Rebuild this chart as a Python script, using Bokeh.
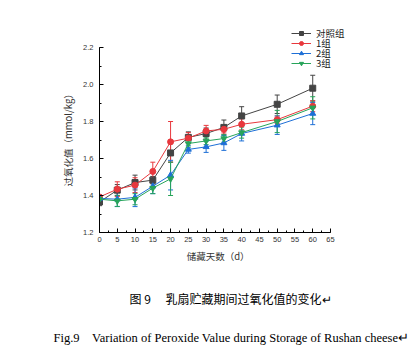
from bokeh.plotting import figure
from bokeh.models import (Range1d, ColumnDataSource, Whisker, TeeHead, Legend, LegendItem,
                          Title, SingleIntervalTicker, PrintfTickFormatter)
from bokeh.embed import file_html
from bokeh.resources import INLINE

days = [0, 5, 10, 15, 20, 25, 30, 35, 40, 50, 60]
series_names = ["对照组", "1组", "2组", "3组"]
control = [1.365, 1.429, 1.47, 1.483, 1.63, 1.714, 1.735, 1.768, 1.83, 1.893, 1.98]
control_err = [0.02, 0.03, 0.04, 0.02, 0.05, 0.03, 0.03, 0.04, 0.05, 0.05, 0.07]
group1 = [1.392, 1.434, 1.456, 1.53, 1.69, 1.71, 1.749, 1.758, 1.785, 1.81, 1.883]
group1_err = [0.01, 0.04, 0.04, 0.05, 0.11, 0.03, 0.03, 0.02, 0.03, 0.02, 0.03]
group2 = [1.384, 1.38, 1.39, 1.45, 1.51, 1.649, 1.663, 1.684, 1.735, 1.78, 1.843]
group2_err = [0.02, 0.04, 0.05, 0.04, 0.08, 0.02, 0.03, 0.04, 0.04, 0.05, 0.06]
group3 = [1.38, 1.371, 1.38, 1.44, 1.49, 1.681, 1.695, 1.708, 1.74, 1.80, 1.874]
group3_err = [0.01, 0.03, 0.03, 0.03, 0.09, 0.02, 0.02, 0.02, 0.03, 0.06, 0.06]

x_axis_min, x_axis_max = 0, 65
y_axis_min, y_axis_max = 1.2, 2.2
x_label = "储藏天数（d）"
y_label = "过氧化值（mmol/kg）"
caption_cn = "图\u00a09\u3000\u00a0乳扇贮藏期间过氧化值的变化↵"
caption_en = "Fig.9\u00a0\u00a0\u00a0\u00a0Variation of Peroxide Value during Storage of Rushan cheese↵"

colors = ["#444444", "#e8383d", "#1e6fd6", "#27a45a"]
markers = ["square", "circle", "triangle", "inverted_triangle"]

W, H = 417, 356
LEFT, BOTTOM_PX = 99, 232
px_per_x = 231 / 65.0
px_per_y = 185 / 1.0
p = figure(width=W, height=H, output_backend="svg", toolbar_location=None,
           x_range=Range1d(x_axis_min, x_axis_min + (W - LEFT) / px_per_x),
           y_range=Range1d(y_axis_min, y_axis_min + BOTTOM_PX / px_per_y),
           min_border_left=LEFT, min_border_right=0, min_border_top=0,
           min_border_bottom=H - BOTTOM_PX)
p.outline_line_color = None
p.grid.grid_line_color = None
p.background_fill_color = "white"
p.border_fill_color = "white"

p.xaxis.ticker = SingleIntervalTicker(interval=5, num_minor_ticks=2)
p.yaxis.ticker = SingleIntervalTicker(interval=0.2, num_minor_ticks=2)
p.xaxis.bounds = (x_axis_min, x_axis_max)
p.yaxis.bounds = (y_axis_min, y_axis_max)
for ax in (p.xaxis, p.yaxis):
    ax.axis_line_color = "black"
    ax.axis_line_width = 1
    ax.major_tick_line_color = "black"
    ax.minor_tick_line_color = "black"
    ax.major_tick_in = 4
    ax.major_tick_out = 0
    ax.minor_tick_in = 2
    ax.minor_tick_out = 0
    ax.major_label_text_font = "Liberation Sans"
    ax.major_label_text_font_size = "7.5px"
    ax.major_label_text_color = "#333333"
    ax.axis_label_text_font = "Noto Sans CJK SC"
    ax.axis_label_text_font_size = "9.5px"
    ax.axis_label_text_font_style = "normal"
    ax.axis_label_text_color = "#333333"
# the frame is wider/taller than the axes (room for the legend), so pad the
# axis titles to centre them on the axis spans
p.xaxis.axis_label = x_label + "\u3000" * 9
p.yaxis.axis_label = y_label + "\u3000" * 5
p.xaxis.major_label_standoff = 4
p.yaxis.major_label_standoff = 6
p.xaxis.axis_label_standoff = 4
p.yaxis.axis_label_standoff = 5
p.yaxis.formatter = PrintfTickFormatter(format="%.1f")

all_vals = [control, group1, group2, group3]
all_errs = [control_err, group1_err, group2_err, group3_err]
row_centers_px = [33, 43, 53, 63]  # legend row centres, from the canvas top
for name, vals, errs, c, m, rc in zip(series_names, all_vals, all_errs, colors, markers,
                                      row_centers_px):
    src = ColumnDataSource(dict(x=days, y=vals,
                                lo=[v - e for v, e in zip(vals, errs)],
                                hi=[v + e for v, e in zip(vals, errs)]))
    w = Whisker(source=src, base="x", upper="hi", lower="lo", line_color=c, line_width=1,
                upper_head=TeeHead(size=5, line_color=c, line_width=1),
                lower_head=TeeHead(size=5, line_color=c, line_width=1))
    p.add_layout(w)
    r1 = p.line("x", "y", source=src, line_color=c, line_width=1)
    r2 = p.scatter("x", "y", source=src, marker=m, size=6, fill_color=c, line_color=c)
    leg = Legend(items=[LegendItem(label=name, renderers=[r1, r2])],
                 location=(192, BOTTOM_PX - (rc + 7)), orientation="vertical",
                 label_text_font="Noto Sans CJK SC", label_text_font_size="9.5px",
                 label_text_color="#222222", glyph_width=20, glyph_height=10,
                 label_height=10, spacing=0, padding=0, margin=0, label_standoff=5,
                 border_line_alpha=0, background_fill_alpha=0)
    p.add_layout(leg, "center")

t1 = Title(text=caption_cn, align="left", offset=30, standoff=44,
           text_font="Noto Sans CJK SC", text_font_size="12px", text_font_style="normal",
           text_color="black")
t2 = Title(text=caption_en, align="left", offset=-46, standoff=0,
           text_font="Liberation Serif", text_font_size="12.5px", text_font_style="normal",
           text_color="black")
p.add_layout(t1, "below")
p.add_layout(t2, "below")

open("out.html", "w").write(file_html(p, INLINE))
